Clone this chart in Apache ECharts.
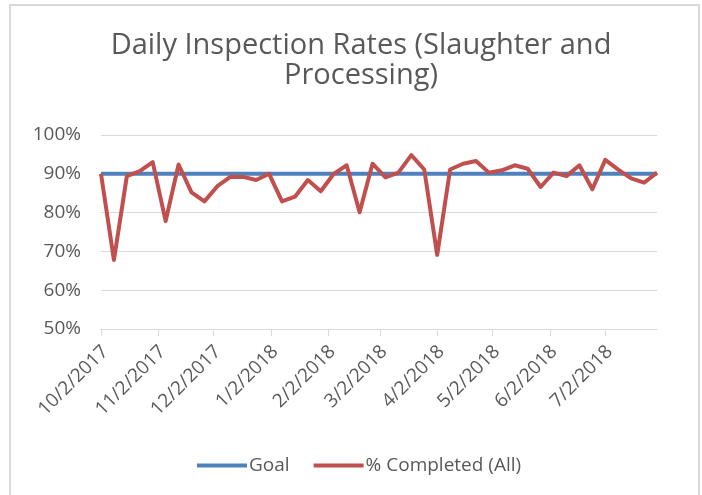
<!DOCTYPE html>
<html>
<head>
<meta charset="utf-8">
<script src="https://cdn.jsdelivr.net/npm/echarts@6/dist/echarts.min.js"></script>
<style>
html,body{margin:0;padding:0;background:#fff;}
#chart{width:702px;height:495px;}
</style>
</head>
<body>
<div id="chart"></div>
<script>
// Weekly dates (M/D/YYYY)
const weekDates = [
  '10/2/2017','10/9/2017','10/16/2017','10/23/2017','10/30/2017',
  '11/6/2017','11/13/2017','11/20/2017','11/27/2017',
  '12/4/2017','12/11/2017','12/18/2017','12/25/2017',
  '1/1/2018','1/8/2018','1/15/2018','1/22/2018','1/29/2018',
  '2/5/2018','2/12/2018','2/19/2018','2/26/2018',
  '3/5/2018','3/12/2018','3/19/2018','3/26/2018',
  '4/2/2018','4/9/2018','4/16/2018','4/23/2018','4/30/2018',
  '5/7/2018','5/14/2018','5/21/2018','5/28/2018',
  '6/4/2018','6/11/2018','6/18/2018','6/25/2018',
  '7/2/2018','7/9/2018','7/16/2018','7/23/2018','7/30/2018'
];
// % Completed (All)
const completed = [
  90.0, 67.8, 89.4, 90.7, 93.0,
  77.8, 92.4, 85.2, 82.9,
  86.8, 89.2, 89.2, 88.4,
  90.0, 82.9, 84.1, 88.4, 85.5,
  90.0, 92.2, 80.1, 92.6,
  89.1, 90.3, 94.8, 91.1,
  69.1, 91.1, 92.6, 93.3, 90.3,
  90.9, 92.2, 91.3, 86.6,
  90.3, 89.4, 92.2, 86.0,
  93.6, 91.1, 88.8, 87.7, 90.3
];
// Goal
const goal = [
  90, 90, 90, 90, 90,
  90, 90, 90, 90,
  90, 90, 90, 90,
  90, 90, 90, 90, 90,
  90, 90, 90, 90,
  90, 90, 90, 90,
  90, 90, 90, 90, 90,
  90, 90, 90, 90,
  90, 90, 90, 90,
  90, 90, 90, 90, 90
];
// Axis tick labels
const xTickLabels = ['10/2/2017','11/2/2017','12/2/2017','1/2/2018','2/2/2018','3/2/2018','4/2/2018','5/2/2018','6/2/2018','7/2/2018'];
const yMin = 50, yMax = 100, yStep = 10;

// dates -> day number (days since epoch, UTC)
function toDay(s) {
  const p = s.split('/').map(Number);
  return Math.round(Date.UTC(p[2], p[0] - 1, p[1]) / 86400000);
}
const tickDays = xTickLabels.map(toDay);
const labelByDay = {};
tickDays.forEach((t, i) => { labelByDay[t] = xTickLabels[i]; });

const FONT = 'Open Sans';
const TXT = '#595959';
const GRID = '#d9d9d9';

const chart = echarts.init(document.getElementById('chart'), null, {renderer: 'canvas'});
chart.setOption({
  animation: false,
  backgroundColor: '#fff',
  textStyle: {fontFamily: FONT},
  graphic: [{
    type: 'rect', silent: true, z: -10,
    shape: {x: 10, y: 5, width: 689, height: 520},
    style: {fill: 'none', stroke: GRID, lineWidth: 2}
  }],
  title: {
    text: 'Daily Inspection Rates (Slaughter and\nProcessing)',
    left: 356, top: 26, textAlign: 'center',
    textStyle: {fontFamily: FONT, fontSize: 29, fontWeight: 'normal', color: TXT, lineHeight: 30}
  },
  legend: {
    left: 192, top: 451,
    itemWidth: 50, itemHeight: 4, itemGap: 24,
    icon: 'rect',
    textStyle: {fontFamily: FONT, fontSize: 19, color: TXT, padding: [0, 0, 0, -3]},
    data: ['Goal', '% Completed (All)']
  },
  grid: {left: 101, right: 45, top: 135, bottom: 166, containLabel: false},
  xAxis: {
    type: 'value',
    min: toDay(weekDates[0]),
    max: toDay(weekDates[weekDates.length - 1]),
    axisLine: {show: true, lineStyle: {color: GRID, width: 1}},
    axisTick: {show: true, length: 7, lineStyle: {color: GRID}, customValues: tickDays},
    splitLine: {show: false},
    axisLabel: {
      customValues: tickDays,
      rotate: 45, margin: 24,
      fontFamily: FONT, fontSize: 19, color: TXT,
      padding: [0, -6, 0, 0],
      formatter: v => labelByDay[v] || ''
    }
  },
  yAxis: {
    type: 'value', min: yMin, max: yMax, interval: yStep,
    axisLine: {show: false}, axisTick: {show: false},
    splitLine: {lineStyle: {color: GRID, width: 1}},
    axisLabel: {formatter: '{value}%', fontFamily: FONT, fontSize: 19, color: TXT, margin: 20}
  },
  series: [
    {
      name: 'Goal', type: 'line', symbol: 'none',
      data: weekDates.map((d, i) => [toDay(d), goal[i]]),
      lineStyle: {color: '#4f81bd', width: 4},
      itemStyle: {color: '#4f81bd'}
    },
    {
      name: '% Completed (All)', type: 'line', symbol: 'none',
      data: weekDates.map((d, i) => [toDay(d), completed[i]]),
      lineStyle: {color: '#c0504d', width: 4, join: 'round'},
      itemStyle: {color: '#c0504d'}
    }
  ]
});
</script>
</body>
</html>
